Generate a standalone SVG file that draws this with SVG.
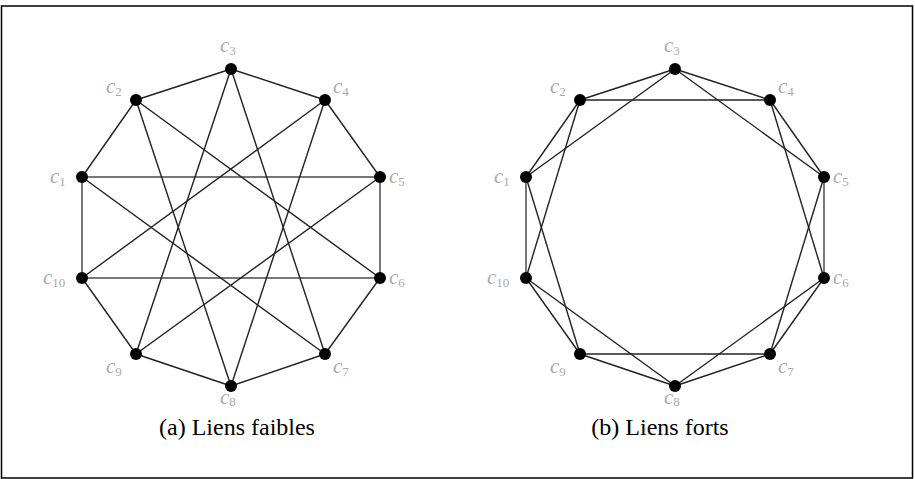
<svg xmlns="http://www.w3.org/2000/svg" width="915" height="479" viewBox="0 0 915 479">
<style>
.e{stroke:#222;stroke-width:1.4;fill:none}
.g{stroke:#777;stroke-width:2;fill:none}
.n{fill:#000}
.lb{font-family:"Liberation Serif","DejaVu Serif",serif;font-style:italic;font-size:21px;fill:#aaa}
.sb{font-size:13px;font-style:normal}
.cap{font-family:"Liberation Serif",serif;font-size:24px;fill:#000}
</style>
<rect x="1.5" y="6" width="911" height="472" fill="#fff" stroke="#000" stroke-width="1.5"/>
<g id="connectors">
<g id="edges-a">
<line class="e" x1="231" y1="69" x2="136" y2="100"/>
<line class="e" x1="231" y1="69" x2="325" y2="100"/>
<line class="e" x1="136" y1="100" x2="82" y2="177"/>
<line class="e" x1="325" y1="100" x2="380" y2="177"/>
<line class="g" x1="82" y1="177" x2="82" y2="278"/>
<line class="g" x1="380" y1="177" x2="380" y2="278"/>
<line class="e" x1="82" y1="278" x2="136" y2="354"/>
<line class="e" x1="380" y1="278" x2="325" y2="354"/>
<line class="e" x1="136" y1="354" x2="231" y2="386"/>
<line class="e" x1="325" y1="354" x2="231" y2="386"/>
<line class="g" x1="82" y1="177" x2="380" y2="177"/>
<line class="g" x1="82" y1="278" x2="380" y2="278"/>
<line class="e" x1="231" y1="69" x2="325" y2="354"/>
<line class="e" x1="231" y1="69" x2="136" y2="354"/>
<line class="e" x1="325" y1="100" x2="231" y2="386"/>
<line class="e" x1="325" y1="100" x2="82" y2="278"/>
<line class="e" x1="380" y1="177" x2="136" y2="354"/>
<line class="e" x1="82" y1="177" x2="325" y2="354"/>
<line class="e" x1="136" y1="100" x2="231" y2="386"/>
<line class="e" x1="136" y1="100" x2="380" y2="278"/>
</g>
<g id="edges-b">
<line class="e" x1="675" y1="69" x2="580" y2="100"/>
<line class="e" x1="675" y1="69" x2="770" y2="100"/>
<line class="e" x1="580" y1="100" x2="526" y2="177"/>
<line class="e" x1="770" y1="100" x2="824" y2="177"/>
<line class="g" x1="526" y1="177" x2="526" y2="278"/>
<line class="g" x1="824" y1="177" x2="824" y2="278"/>
<line class="e" x1="526" y1="278" x2="580" y2="354"/>
<line class="e" x1="824" y1="278" x2="770" y2="354"/>
<line class="e" x1="580" y1="354" x2="675" y2="386"/>
<line class="e" x1="770" y1="354" x2="675" y2="386"/>
<line class="e" x1="580" y1="100" x2="770" y2="100"/>
<line class="e" x1="580" y1="354" x2="770" y2="354"/>
<line class="e" x1="675" y1="69" x2="526" y2="177"/>
<line class="e" x1="675" y1="69" x2="824" y2="177"/>
<line class="e" x1="580" y1="100" x2="526" y2="278"/>
<line class="e" x1="770" y1="100" x2="824" y2="278"/>
<line class="e" x1="526" y1="177" x2="580" y2="354"/>
<line class="e" x1="824" y1="177" x2="770" y2="354"/>
<line class="e" x1="526" y1="278" x2="675" y2="386"/>
<line class="e" x1="824" y1="278" x2="675" y2="386"/>
</g>
</g>
<g id="a-c3"><circle class="n" cx="231" cy="69" r="6"/><text class="lb" x="220" y="52">c<tspan class="sb" dy="3">3</tspan></text></g>
<g id="a-c2"><circle class="n" cx="136" cy="100" r="6"/><text class="lb" x="106" y="93">c<tspan class="sb" dy="3">2</tspan></text></g>
<g id="a-c4"><circle class="n" cx="325" cy="100" r="6"/><text class="lb" x="333" y="93">c<tspan class="sb" dy="3">4</tspan></text></g>
<g id="a-c1"><circle class="n" cx="82" cy="177" r="6"/><text class="lb" x="50" y="183">c<tspan class="sb" dy="3">1</tspan></text></g>
<g id="a-c5"><circle class="n" cx="380" cy="177" r="6"/><text class="lb" x="389" y="183">c<tspan class="sb" dy="3">5</tspan></text></g>
<g id="a-c10"><circle class="n" cx="82" cy="278" r="6"/><text class="lb" x="43" y="284">c<tspan class="sb" dy="3">10</tspan></text></g>
<g id="a-c6"><circle class="n" cx="380" cy="278" r="6"/><text class="lb" x="389" y="284">c<tspan class="sb" dy="3">6</tspan></text></g>
<g id="a-c9"><circle class="n" cx="136" cy="354" r="6"/><text class="lb" x="106" y="373">c<tspan class="sb" dy="3">9</tspan></text></g>
<g id="a-c7"><circle class="n" cx="325" cy="354" r="6"/><text class="lb" x="333" y="373">c<tspan class="sb" dy="3">7</tspan></text></g>
<g id="a-c8"><circle class="n" cx="231" cy="386" r="6"/><text class="lb" x="220" y="404">c<tspan class="sb" dy="2">8</tspan></text></g>
<g id="b-c3"><circle class="n" cx="675" cy="69" r="6"/><text class="lb" x="664" y="52">c<tspan class="sb" dy="3">3</tspan></text></g>
<g id="b-c2"><circle class="n" cx="580" cy="100" r="6"/><text class="lb" x="550" y="93">c<tspan class="sb" dy="3">2</tspan></text></g>
<g id="b-c4"><circle class="n" cx="770" cy="100" r="6"/><text class="lb" x="778" y="93">c<tspan class="sb" dy="3">4</tspan></text></g>
<g id="b-c1"><circle class="n" cx="526" cy="177" r="6"/><text class="lb" x="494" y="183">c<tspan class="sb" dy="3">1</tspan></text></g>
<g id="b-c5"><circle class="n" cx="824" cy="177" r="6"/><text class="lb" x="833" y="183">c<tspan class="sb" dy="3">5</tspan></text></g>
<g id="b-c10"><circle class="n" cx="526" cy="278" r="6"/><text class="lb" x="487" y="284">c<tspan class="sb" dy="3">10</tspan></text></g>
<g id="b-c6"><circle class="n" cx="824" cy="278" r="6"/><text class="lb" x="833" y="284">c<tspan class="sb" dy="3">6</tspan></text></g>
<g id="b-c9"><circle class="n" cx="580" cy="354" r="6"/><text class="lb" x="550" y="373">c<tspan class="sb" dy="3">9</tspan></text></g>
<g id="b-c7"><circle class="n" cx="770" cy="354" r="6"/><text class="lb" x="778" y="373">c<tspan class="sb" dy="3">7</tspan></text></g>
<g id="b-c8"><circle class="n" cx="675" cy="386" r="6"/><text class="lb" x="664" y="404">c<tspan class="sb" dy="2">8</tspan></text></g>
<text class="cap" x="237" y="435" text-anchor="middle">(a) Liens faibles</text>
<text class="cap" x="660" y="435" text-anchor="middle">(b) Liens forts</text>
</svg>
